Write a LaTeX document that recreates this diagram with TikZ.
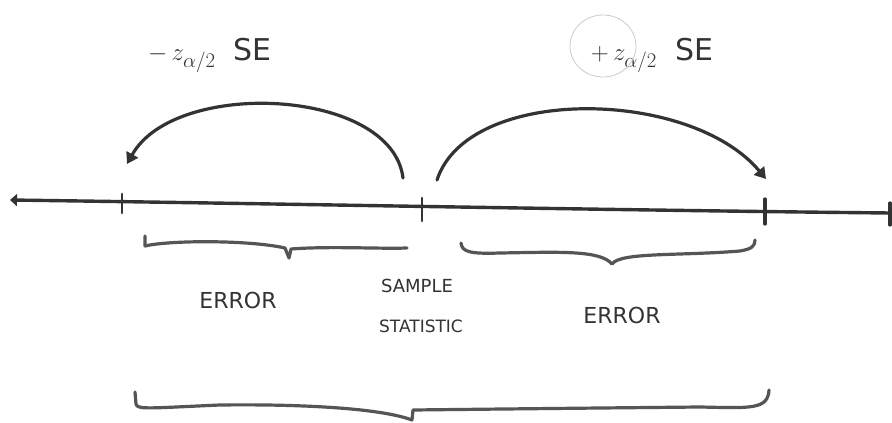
\documentclass[tikz,border=0pt]{standalone}
\usepackage{fontspec}
\setsansfont{DejaVu Sans}
\usetikzlibrary{arrows.meta}
\definecolor{ink}{HTML}{333333}
\definecolor{inkb}{HTML}{555555}
\tikzset{
  axisline/.style={draw=ink, line width=3.4pt, line cap=round},
  tickmark/.style={draw=ink, line width=2.6pt, line cap=round},
  arcline/.style={draw=ink, line width=3.2pt, line cap=round, -{Triangle[length=11pt,width=13pt]}},
  bracepath/.style={draw=inkb, line width=3.2pt, line cap=round, line join=round},
  lbl/.style={font=\sffamily\fontsize{22}{24}\selectfont, text=ink, inner sep=0pt},
  mlbl/.style={font=\fontsize{30}{32}\selectfont, text=ink, inner sep=0pt}
}
\begin{document}
\begin{tikzpicture}[x=1pt,y=-1pt]
\useasboundingbox[fill=white] (0,0) rectangle (892,423);
% axis points
\coordinate (axL) at (10,200);
\coordinate (axR) at (890,213);
\coordinate (tA) at (122,204);
\coordinate (tB) at (422,210);
\coordinate (tC) at (765,212);
% axis
\draw[axisline, -{Triangle[length=7pt,width=12pt]}] (axR) .. controls (600,210) and (300,204) .. (axL);
\draw[tickmark] ([yshift=-9pt]tA) -- ([yshift=10pt]tA);
\draw[tickmark] ([yshift=-11pt]tB) -- ([yshift=12pt]tB);
\draw[tickmark, line width=3.2pt] ([yshift=-12pt]tC) -- ([yshift=13pt]tC);
\draw[tickmark, line width=3.2pt] ([yshift=-12pt]axR) -- ([yshift=10pt]axR);
% arcs
\coordinate (a1s) at (403,178);
\coordinate (a1e) at (127,164);
\coordinate (a2s) at (437,180);
\coordinate (a2e) at (766,179);
\draw[arcline] (a1s) .. controls (392,88) and (175,78) .. (a1e);
\draw[arcline] (a2s) .. controls (468,85) and (690,88) .. (a2e);
% labels above
\node[mlbl] (lm) at (210,55) {$-\,z_{\alpha/2}$\ \ \textsf{SE}};
\node[mlbl] (lp) at (652,55) {$+\,z_{\alpha/2}$\ \ \textsf{SE}};
\draw[gray!40, line width=0.8pt] (603,46) ellipse (33pt and 31pt);
% small braces
\coordinate (b1l) at (145,236);
\coordinate (b1r) at (407,248);
\coordinate (b1t) at (289,258);
\draw[bracepath] (b1l) -- (145,246) .. controls (170,240) and (250,240) .. (285,248)
  -- (b1t) -- (291,249) .. controls (330,246) and (380,249) .. (b1r);
\coordinate (b2l) at (461,243);
\coordinate (b2r) at (755,240);
\coordinate (b2t) at (612,264);
\draw[bracepath] (b2l) .. controls (462,252) and (470,254) .. (500,253)
  .. controls (560,252) and (600,250) .. (b2t)
  .. controls (620,252) and (680,256) .. (740,251) .. controls (752,249) and (755,246) .. (b2r);
% labels below
\node[lbl] (e1) at (238,300) {ERROR};
\node[lbl, font=\sffamily\fontsize{18}{20}\selectfont] (ss1) at (417,286) {SAMPLE};
\node[lbl, font=\sffamily\fontsize{17}{19}\selectfont] (ss2) at (421,326) {STATISTIC};
\node[lbl] (e2) at (622,315) {ERROR};
% big brace
\coordinate (bbl) at (135,392);
\coordinate (bbr) at (769,390);
\coordinate (bbt) at (412,420);
\draw[bracepath] (bbl) -- (136,404) .. controls (137,410) and (150,408) .. (220,405)
  .. controls (300,404) and (380,408) .. (bbt) -- (413,410)
  .. controls (500,409) and (600,408) .. (700,407) .. controls (750,408) and (768,410) .. (bbr);
\end{tikzpicture}
\end{document}
